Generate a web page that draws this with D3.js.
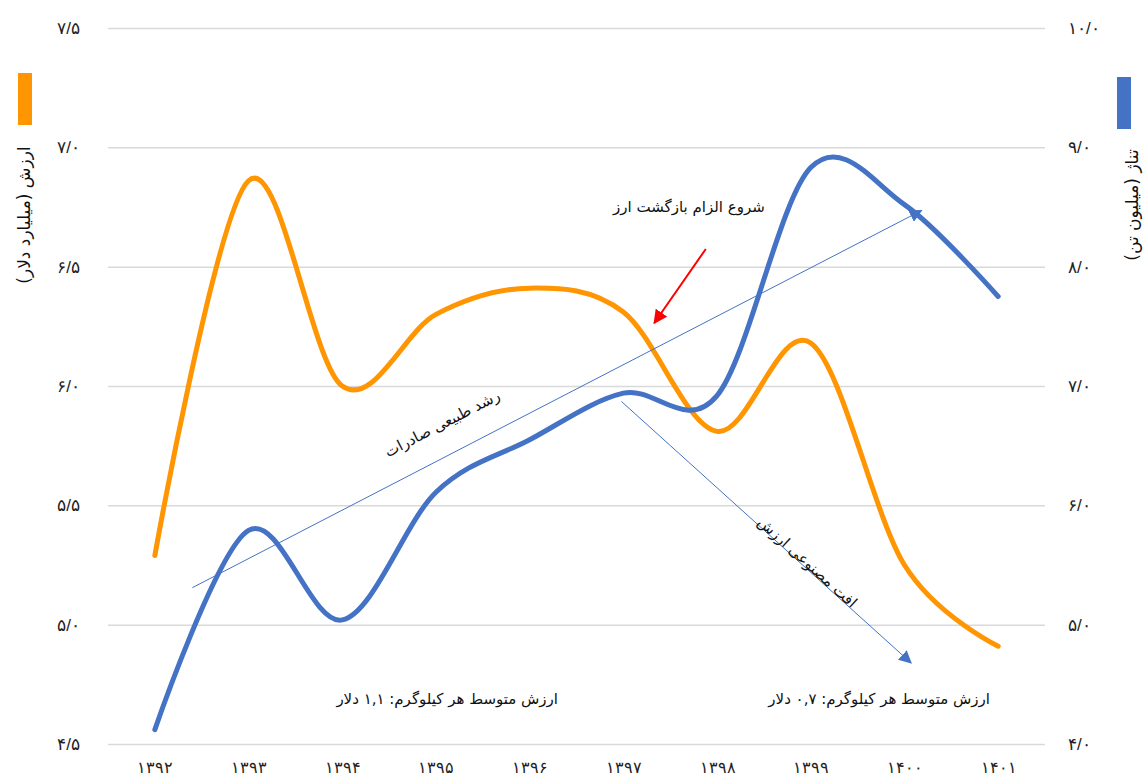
<!DOCTYPE html>
<html>
<head>
<meta charset="utf-8">
<script src="https://cdn.jsdelivr.net/npm/d3@7"></script>
<style>
  body { margin: 0; background: #fff; }
  svg { display: block; font-family: "DejaVu Sans", sans-serif; }
</style>
</head>
<body>
<div class="content"></div>
<script>
// data
const years = ['۱۳۹۲', '۱۳۹۳', '۱۳۹۴', '۱۳۹۵', '۱۳۹۶', '۱۳۹۷', '۱۳۹۸', '۱۳۹۹', '۱۴۰۰', '۱۴۰۱'];
const valueBn = [5.29, 6.86, 6.00, 6.30, 6.41, 6.31, 5.81, 6.18, 5.25, 4.91];   // left axis
const tonnageMt = [4.12, 5.79, 5.04, 6.11, 6.55, 6.94, 6.92, 8.83, 8.52, 7.75]; // right axis
const leftTicks = [4.5, 5.0, 5.5, 6.0, 6.5, 7.0, 7.5];
const leftLabels = ['۴/۵', '۵/۰', '۵/۵', '۶/۰', '۶/۵', '۷/۰', '۷/۵'];
const rightTicks = [4, 5, 6, 7, 8, 9, 10];
const rightLabels = ['۴/۰', '۵/۰', '۶/۰', '۷/۰', '۸/۰', '۹/۰', '۱۰/۰'];
const leftTitle = 'ارزش (میلیارد دلار)';
const rightTitle = 'تناژ (میلیون تن)';

// annotations in data space: [index, value]
const growthArrow = [[0.40, 5.31], [8.18, 8.47]];   // right axis
const dropArrow = [[4.98, 6.87], [8.07, 4.68]];     // right axis
const redArrow = [[5.88, 6.574], [5.33, 6.264]];    // left axis
const notes = [
  { text: 'شروع الزام بازگشت ارز', i: 5.70, v: 6.75, axis: 'left' },
  { text: 'ارزش متوسط هر کیلوگرم: ۱,۱ دلار', i: 3.12, v: 4.37, axis: 'right' },
  { text: 'ارزش متوسط هر کیلوگرم: ۰,۷ دلار', i: 7.73, v: 4.37, axis: 'right' }
];
const lineNotes = [
  { text: 'رشد طبیعی صادرات', i: 3.07, v: 6.68, arrow: growthArrow },
  { text: 'افت مصنوعی ارزش', i: 6.96, v: 5.52, arrow: dropArrow }
];

function main() {
  const svgW = 1143, svgH = 779;
  const left = 108, right = 1045, top = 28, bottom = 744;
  const orange = '#FF9500', blue = '#4472C4';

  const svg = d3.select('.content').append('svg')
    .attr('width', svgW).attr('height', svgH);

  const x = d3.scalePoint().domain(years).range([left, right]).padding(0.5);
  const xi = d3.scaleLinear().domain([0, years.length - 1])
    .range([x(years[0]), x(years[years.length - 1])]);
  const yL = d3.scaleLinear().domain([4.5, 7.5]).range([bottom, top]);
  const yR = d3.scaleLinear().domain([4, 10]).range([bottom, top]);

  // gridlines + left labels
  const gl = svg.append('g').attr('transform', 'translate(' + left + ',0)')
    .call(d3.axisLeft(yL).tickValues(leftTicks).tickSize(-(right - left))
      .tickPadding(28).tickFormat((d, i) => leftLabels[i]));
  gl.select('.domain').remove();
  gl.selectAll('line').attr('stroke', '#d9d9d9').attr('stroke-width', 1.5);
  gl.selectAll('text').attr('font-size', 17).attr('fill', '#222').attr('direction', 'ltr');

  const gr = svg.append('g').attr('transform', 'translate(' + right + ',0)')
    .call(d3.axisRight(yR).tickValues(rightTicks).tickSize(0)
      .tickPadding(23).tickFormat((d, i) => rightLabels[i]));
  gr.select('.domain').remove();
  gr.selectAll('text').attr('font-size', 17).attr('fill', '#222').attr('direction', 'ltr');

  const gx = svg.append('g').attr('transform', 'translate(0,' + bottom + ')')
    .call(d3.axisBottom(x).tickSize(0).tickPadding(18));
  gx.select('.domain').remove();
  gx.selectAll('text').attr('font-size', 16).attr('fill', '#222');

  // lines
  const curve = d3.curveCatmullRom.alpha(0);
  const lineL = d3.line().x((d, i) => x(years[i])).y(d => yL(d)).curve(curve);
  const lineR = d3.line().x((d, i) => x(years[i])).y(d => yR(d)).curve(curve);
  svg.append('path').datum(valueBn).attr('d', lineL)
    .attr('fill', 'none').attr('stroke', orange).attr('stroke-width', 5).attr('stroke-linecap', 'round');
  svg.append('path').datum(tonnageMt).attr('d', lineR)
    .attr('fill', 'none').attr('stroke', blue).attr('stroke-width', 5).attr('stroke-linecap', 'round');

  // arrow markers
  const defs = svg.append('defs');
  function marker(id, color, size) {
    defs.append('marker').attr('id', id)
      .attr('viewBox', '0 0 10 10').attr('refX', 9).attr('refY', 5)
      .attr('markerWidth', size).attr('markerHeight', size)
      .attr('markerUnits', 'userSpaceOnUse').attr('orient', 'auto')
      .append('path').attr('d', 'M0,0 L10,5 L0,10 Z').attr('fill', color);
  }
  marker('arrBlue', blue, 13);
  marker('arrRed', '#ff0000', 14);

  function drawArrow(pts, ys, color, w, id) {
    svg.append('line')
      .attr('x1', xi(pts[0][0])).attr('y1', ys(pts[0][1]))
      .attr('x2', xi(pts[1][0])).attr('y2', ys(pts[1][1]))
      .attr('stroke', color).attr('stroke-width', w)
      .attr('marker-end', 'url(#' + id + ')');
  }
  drawArrow(growthArrow, yR, blue, 1, 'arrBlue');
  drawArrow(dropArrow, yR, blue, 1, 'arrBlue');
  drawArrow(redArrow, yL, '#ff0000', 2, 'arrRed');

  // notes
  notes.forEach(n => {
    const ys = n.axis === 'left' ? yL : yR;
    svg.append('text').attr('x', xi(n.i)).attr('y', ys(n.v))
      .attr('text-anchor', 'middle').attr('dominant-baseline', 'middle')
      .attr('direction', 'rtl').attr('font-size', 15).attr('fill', '#111')
      .text(n.text);
  });
  lineNotes.forEach(n => {
    const a = n.arrow;
    const ang = Math.atan2(yR(a[1][1]) - yR(a[0][1]), xi(a[1][0]) - xi(a[0][0])) * 180 / Math.PI;
    svg.append('text')
      .attr('transform', 'translate(' + xi(n.i) + ',' + yR(n.v) + ') rotate(' + ang + ')')
      .attr('text-anchor', 'middle').attr('dominant-baseline', 'middle')
      .attr('direction', 'rtl').attr('font-size', 15).attr('fill', '#111')
      .text(n.text);
  });

  // legends / axis titles
  svg.append('rect').attr('x', 18).attr('y', 73).attr('width', 14).attr('height', 52).attr('fill', orange);
  svg.append('text').attr('transform', 'translate(25,215) rotate(-90)')
    .attr('text-anchor', 'middle').attr('dominant-baseline', 'middle')
    .attr('direction', 'rtl').attr('font-size', 17).attr('fill', '#111').text(leftTitle);
  svg.append('rect').attr('x', 1117).attr('y', 77).attr('width', 14).attr('height', 52).attr('fill', blue);
  svg.append('text').attr('transform', 'translate(1133,205) rotate(-90)')
    .attr('text-anchor', 'middle').attr('dominant-baseline', 'middle')
    .attr('direction', 'rtl').attr('font-size', 17).attr('fill', '#111').text(rightTitle);
}
main();
</script>
</body>
</html>
